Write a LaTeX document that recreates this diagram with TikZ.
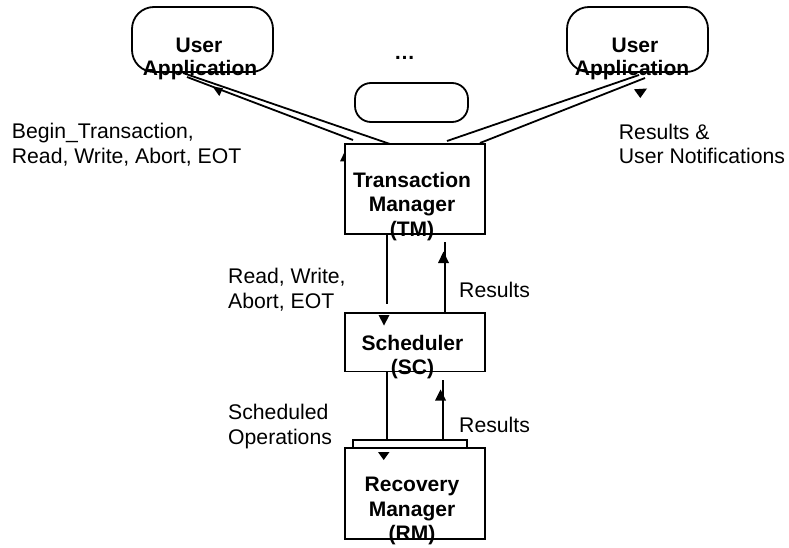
\documentclass[tikz,border=0pt]{standalone}
\usepackage{fontspec}
\setmainfont{Liberation Sans}
\usetikzlibrary{calc}
\begin{document}
\begin{tikzpicture}[x=1pt,y=-1pt,line width=1.8pt,
  box/.style={draw,fill=white,rectangle,inner sep=0pt,line width=1.8pt},
  appbox/.style={draw,fill=white,rectangle,inner sep=0pt,line width=1.8pt},
  bt/.style={font=\fontsize{21}{24}\selectfont\bfseries,inner sep=0pt,anchor=base},
  lbl/.style={font=\fontsize{21.2}{24}\selectfont,inner sep=0pt,anchor=base west},
  tipmark/.style={fill=black,draw=none},
  conn/.style={draw,line width=1.8pt}]
\useasboundingbox (0,0) rectangle (789,548);

% endpoints of connectors
\coordinate (la1) at (353,140);  \coordinate (la2) at (187,77);
\coordinate (lb1) at (390,144);  \coordinate (lb2) at (183,73);
\coordinate (ra1) at (447,141);  \coordinate (ra2) at (639,75);
\coordinate (rb1) at (480,143);  \coordinate (rb2) at (645,78);
\coordinate (v1a) at (387,234);  \coordinate (v1b) at (387,304);
\coordinate (v2a) at (445,242);  \coordinate (v2b) at (445,313);
\coordinate (v3a) at (387,371.5);\coordinate (v3b) at (387,440);
\coordinate (v4a) at (443,380);  \coordinate (v4b) at (443,448);

% connectors
\path[conn] (la1) -- (la2);
\path[conn] (lb1) -- (lb2);
\path[conn] (ra1) -- (ra2);
\path[conn] (rb1) -- (rb2);
\path[conn] (v1a) -- (v1b);
\path[conn] (v2a) -- (v2b);
\path[conn] (v3a) -- (v3b);
\path[conn] (v4a) -- (v4b);

% arrowhead partly hidden by TM box
\fill[tipmark] (345.5,150) -- (340,161.5) -- (350,161.5) -- cycle;

% boxes
\node[appbox,rounded corners=22pt,minimum width=141pt,minimum height=65pt] (ua1) at (202.5,39.5) {};
\node[appbox,rounded corners=22pt,minimum width=141pt,minimum height=65pt] (ua2) at (637.5,39.5) {};
\node[appbox,rounded corners=16pt,minimum width=113pt,minimum height=39pt] (uam) at (411.5,102.5) {};
\node[box,minimum width=140pt,minimum height=90pt] (tm) at (415,189) {};
\node[box,minimum width=140pt,minimum height=58.5pt] (sc) at (415,342.25) {};
\node[box,minimum width=114pt,minimum height=8pt] (bar) at (410,444) {};
\node[box,minimum width=140pt,minimum height=91pt] (rm) at (415,493.5) {};

% arrowheads
\fill[tipmark] (212.5,86.5) -- (223,88.3) -- (219.3,96) -- cycle;
\fill[tipmark] (634,89.3) -- (647,88.5) -- (640.3,98) -- cycle;
\fill[tipmark] (443.5,251.5) -- (438,263) -- (449,263) -- cycle;
\fill[tipmark] (378.5,315) -- (389.5,315) -- (384,325.5) -- cycle;
\fill[tipmark] (440.5,389.5) -- (435,400.5) -- (446,400.5) -- cycle;
\fill[tipmark] (378,452) -- (389.5,452) -- (383.7,460) -- cycle;

% box texts
\node[bt] (ua1t1) at (199,52.3) {User};
\node[bt] (ua1t2) at (200,76) {Application};
\node[bt] (ua2t1) at (635,52.3) {User};
\node[bt] (ua2t2) at (632,76) {Application};
\node[bt] (dots) at (404.5,60) {…};
\node[bt] (tmt1) at (412,187.5) {Transaction};
\node[bt] (tmt2) at (412,211.7) {Manager};
\node[bt] (tmt3) at (412,236) {(TM)};
\node[bt] (sct1) at (412.5,350) {Scheduler};
\node[bt] (sct2) at (412.5,374.5) {(SC)};
\node[bt] (rmt1) at (412,491.7) {Recovery};
\node[bt] (rmt2) at (412,516) {Manager};
\node[bt] (rmt3) at (412,540.3) {(RM)};

% labels
\node[lbl] (l1a) at (11,139) {Begin\_Transaction,};
\node[lbl] (l1b) at (11,164) {Read, Write, Abort, EOT};
\node[lbl] (l2a) at (618,139.3) {Results \&};
\node[lbl] (l2b) at (618,163.5) {User Notifications};
\node[lbl] (l3a) at (227.3,283.3) {Read, Write,};
\node[lbl] (l3b) at (227.3,308) {Abort, EOT};
\node[lbl] (l4) at (458.3,297.3) {Results};
\node[lbl] (l5a) at (227.3,419.3) {Scheduled};
\node[lbl] (l5b) at (227.3,444) {Operations};
\node[lbl] (l6) at (458.3,432.7) {Results};
\end{tikzpicture}
\end{document}
